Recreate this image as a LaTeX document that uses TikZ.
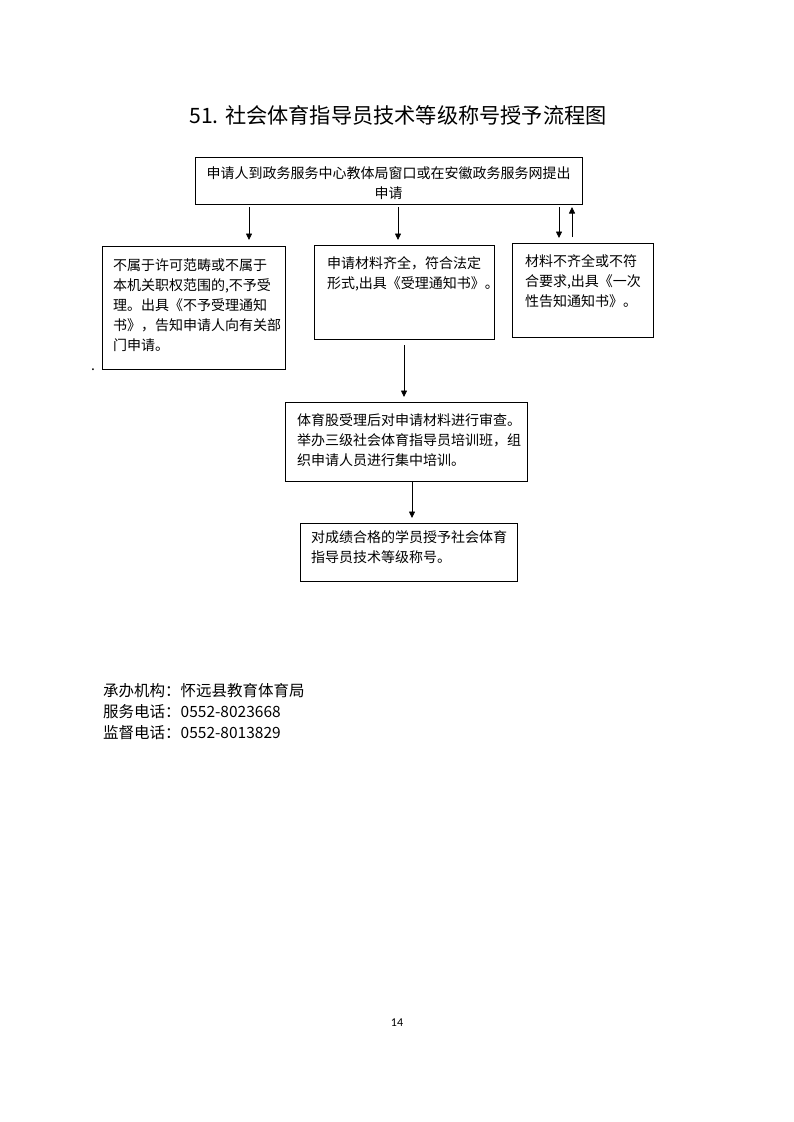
\documentclass[tikz,border=0pt]{standalone}
\usepackage{fontspec}
\setmainfont{Noto Sans CJK SC}
\newfontfamily\pagenumfont{Carlito}
\usetikzlibrary{positioning, calc, arrows.meta}

\tikzset{
  stepbox/.style={draw, line width=1pt, outer sep=0pt, anchor=north west,
    align=left, inner xsep=12pt, inner ysep=0pt, font=\fontsize{14}{20}\selectfont},
  flow/.style={line width=0.8pt, -{Triangle[length=6.5pt,width=6pt]}},
  foot/.style={anchor=base west, inner sep=0pt, font=\fontsize{15.5}{21}\selectfont}
}

\begin{document}
\begin{tikzpicture}[x=1pt, y=-1pt]
  \useasboundingbox[fill=white] (0,0) rectangle (793,1122);
  \node[font=\fontsize{21.2}{26}\selectfont] (title) at (398,115) {51. 社会体育指导员技术等级称号授予流程图};

  % boxes
  \node[stepbox, align=center, inner xsep=11pt, text width=365pt, text height=21.3pt, text depth=25.7pt] (apply) at (195,157)
    {申请人到政务服务中心教体局窗口或在安徽政务服务网提出\\申请};
  \node[stepbox, inner xsep=11pt, text width=161pt, text height=24pt, text depth=99pt] (reject) at (102,246)
    {不属于许可范畴或不属于\\本机关职权范围的,不予受\\理。出具《不予受理通知\\书》，告知申请人向有关部\\门申请。};
  \node[stepbox, inner xsep=13pt, text width=154pt, text height=23.5pt, text depth=70.5pt] (accept) at (314,245)
    {申请材料齐全，符合法定\\形式,出具《受理通知书》。};
  \node[stepbox, inner xsep=13pt, text width=115pt, text height=23.5pt, text depth=70.5pt] (supplement) at (512,243)
    {材料不齐全或不符\\合要求,出具《一次\\性告知通知书》。};
  \node[stepbox, text width=218pt, text height=23.3pt, text depth=55.7pt] (review) at (285,402)
    {体育股受理后对申请材料进行审查。\\举办三级社会体育指导员培训班，组\\织申请人员进行集中培训。};
  \node[stepbox, inner xsep=11pt, text width=195pt, text height=19.3pt, text depth=38.7pt] (award) at (300,523)
    {对成绩合格的学员授予社会体育\\指导员技术等级称号。};

  % arrows
  \draw[flow] ($(apply.south west)+(54,3)$) -- ($(reject.north west)+(147,-6)$);
  \draw[flow] ($(apply.south west)+(203,3)$) -- ($(accept.north west)+(84,-5)$);
  \draw[flow] ($(apply.south west)+(364,3)$) -- ($(supplement.north west)+(47,-5)$);
  \draw[flow] ($(supplement.north west)+(60,-6)$) -- ($(apply.south west)+(377,3)$);
  \draw[flow] ($(accept.south west)+(90,6)$) -- ($(review.north west)+(119,-5)$);
  \draw[flow] ($(review.south west)+(127,0)$) -- ($(award.north west)+(112,-5)$);

  \node[anchor=base, inner sep=0pt, font=\fontsize{14}{16}\selectfont] (dot) at (93,370) {.};

  % contact lines
  \node[foot] (org) at (103,696.5) {承办机构：怀远县教育体育局};
  \node[foot] (tel) at ($(org.base west)+(0,21)$) {服务电话：0552-8023668};
  \node[foot] (sup) at ($(tel.base west)+(0,21)$) {监督电话：0552-8013829};

  \node[font=\pagenumfont\fontsize{12}{14}\selectfont] (pagenum) at (397,1023) {14};
\end{tikzpicture}
\end{document}
